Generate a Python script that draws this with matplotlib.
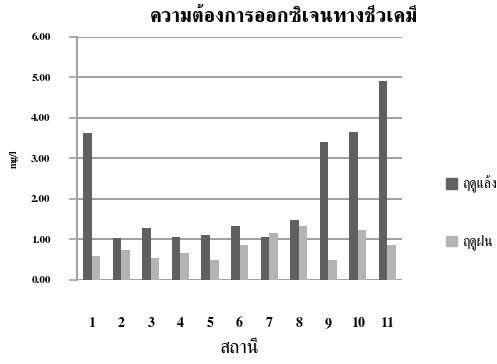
import numpy as np
import matplotlib
matplotlib.use("Agg")
import matplotlib.pyplot as plt
from matplotlib.patches import Patch

# BOD per station, dry season vs rainy season (mg/l)
stations = ["1", "2", "3", "4", "5", "6", "7", "8", "9", "10", "11"]
dry_season = [3.62, 1.03, 1.28, 1.07, 1.11, 1.32, 1.07, 1.48, 3.41, 3.66, 4.90]
rainy_season = [0.58, 0.74, 0.54, 0.66, 0.49, 0.86, 1.15, 1.32, 0.49, 1.23, 0.86]
y_ticks = [0, 1, 2, 3, 4, 5, 6]

DARK = "#606060"
LIGHT = "#b4b4b4"
GRID = "#a0a0a0"
FONT = ["FreeSerif", "DejaVu Serif"]

plt.rcParams["font.family"] = FONT

fig = plt.figure(figsize=(4.97, 3.64), dpi=100)
ax = fig.add_axes([0.155, 0.231, 0.654, 0.668])

x = np.arange(len(stations))
w = 0.29
ax.bar(x - w / 2, dry_season, width=w, color=DARK, zorder=3)
ax.bar(x + w / 2, rainy_season, width=w, color=LIGHT, zorder=3)

ax.set_xlim(-0.5, len(stations) - 0.5)
ax.set_ylim(0, 6)
ax.set_yticks(y_ticks)
ax.set_yticklabels(["%.2f" % v for v in y_ticks], fontsize=8, fontweight="bold")
ax.set_xticks(x)
ax.set_xticklabels(stations, fontsize=10, fontweight="bold")
ax.tick_params(axis="x", length=0, pad=27)
ax.tick_params(axis="y", length=6, width=1.2, color=GRID, pad=13)

ax.grid(axis="y", color=GRID, linewidth=1.4, zorder=0)
for s in ["top", "right", "bottom"]:
    ax.spines[s].set_visible(False)
ax.spines["left"].set_color(GRID)
ax.spines["left"].set_linewidth(1.4)

ax.set_ylabel("mg/l", fontsize=7, fontweight="bold")
ax.yaxis.set_label_coords(-0.18, 0.5)
ax.set_xlabel("สถานี", fontsize=14, labelpad=7)

fig.text(0.571, 0.953, "ความต้องการออกซิเจนทางชีวเคมี", ha="center", va="center",
         fontsize=14.5, fontweight="bold")

handles = [Patch(color=DARK), Patch(color=LIGHT)]
fig.legend(handles, ["ฤดูแล้ง", "ฤดูฝน"], loc="center left",
           bbox_to_anchor=(0.872, 0.415), frameon=False, fontsize=10,
           handlelength=0.8, handleheight=0.8, handletextpad=0.4,
           labelspacing=3.0)

fig.savefig("out.png", dpi=100)
